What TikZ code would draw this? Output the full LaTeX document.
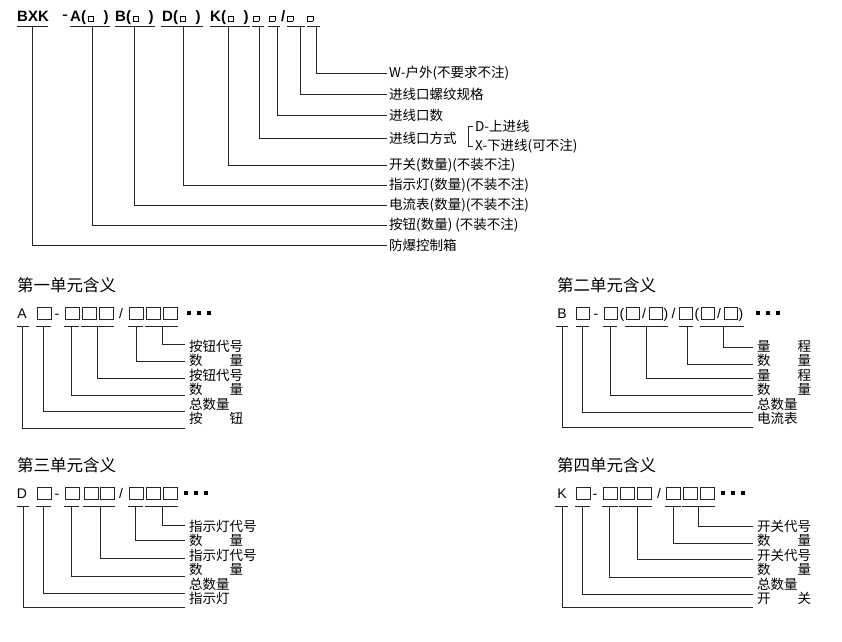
\documentclass[tikz,border=0pt]{standalone}
\usepackage{fontspec}
\setmainfont{Liberation Sans}
\newfontfamily\cjk{Noto Sans CJK SC}
\usetikzlibrary{positioning}
\newcommand{\hsq}{{\fboxsep=0pt\fboxrule=0.5pt\fbox{\rule{0pt}{5pt}\hspace{5pt}}}}

\begin{document}
\begin{tikzpicture}[x=1pt,y=-1pt,
        lead/.style={black!85,line width=1pt},
        code/.style={anchor=base west,inner sep=0pt,font=\fontsize{15}{15}\selectfont\bfseries},
        tag/.style={anchor=west,inner sep=2pt,font=\cjk\fontsize{13.5}{14}\selectfont},
        item/.style={anchor=west,inner sep=1pt,font=\cjk\fontsize{13.5}{14}\selectfont},
        title/.style={anchor=west,inner sep=0pt,font=\cjk\fontsize{16.5}{17}\selectfont},
        sym/.style={anchor=base,inner sep=0pt,font=\fontsize{14}{14}\selectfont},
        cell/.style={black!85,line width=0.9pt}]
    \useasboundingbox (0,0) rectangle (842,641);

    % model code
    \node[code] (bxk) at (17,21) {BXK};
    \node[code,font=\fontsize{18}{18}\selectfont] (sep) at (62,20) {-};
    \node[code] (ga) at (70,21) {A(\hspace{1.5pt}\hsq\hspace{10pt})};
    \node[code] (gb) at (115,21) {B(\hspace{1.5pt}\hsq\hspace{10pt})};
    \node[code] (gd) at (162,21) {D(\hspace{1.5pt}\hsq\hspace{10pt})};
    \node[code] (gk) at (210,21) {K(\hspace{1.5pt}\hsq\hspace{10pt})};
    \node[code] (q1) at (253,21) {\hsq};
    \node[code] (q2) at (269,21) {\hsq};
    \node[code] (q3) at (281,21) {/\hspace{2pt}\hsq};
    \node[code] (q4) at (307,21) {\hsq};
    \draw[lead] (17,26) -- (48,26) (70,26) -- (110,26) (115,26) -- (155,26)
        (161,26) -- (203,26) (210,26) -- (250,26) (252,26) -- (264,26)
        (268,26) -- (280,26) (287,26) -- (305,26) (307,26) -- (320,26);

    \node[tag] (w) at (387,73) {W-户外(不要求不注)};
    \node[tag] (thread) at (387,94) {进线口螺纹规格};
    \node[tag] (ports) at (387,115) {进线口数};
    \node[tag] (entry) at (387,138) {进线口方式};
    \node[tag] (up) at (473,126) {D-上进线};
    \node[tag] (down) at (473,146) {X-下进线(可不注)};
    \node[tag] (sw) at (387,165) {开关(数量)(不装不注)};
    \node[tag] (lamp) at (387,185) {指示灯(数量)(不装不注)};
    \node[tag] (amp) at (387,205) {电流表(数量)(不装不注)};
    \node[tag] (btn) at (387,225) {按钮(数量) (不装不注)};
    \node[tag] (case) at (387,245) {防爆控制箱};

    \coordinate (cw) at (316,26);
    \coordinate (cthread) at (300,26);
    \coordinate (cports) at (277,26);
    \coordinate (centry) at (259,26);
    \coordinate (csw) at (228,26);
    \coordinate (clamp) at (183,26);
    \coordinate (camp) at (134,26);
    \coordinate (cbtn) at (92,26);
    \coordinate (ccase) at (32,26);
    \draw[lead] (cw) |- (w.west);
    \draw[lead] (cthread) |- (thread.west);
    \draw[lead] (cports) |- (ports.west);
    \draw[lead] (centry) |- (entry.west);
    \draw[lead] (csw) |- (sw.west);
    \draw[lead] (clamp) |- (lamp.west);
    \draw[lead] (camp) |- (amp.west);
    \draw[lead] (cbtn) |- (btn.west);
    \draw[lead] (ccase) |- (case.west);
    \draw[lead] (up.west) -- ++(-5,0) |- (down.west);

    % first unit
    \node[title] (t1) at (17,285) {第一单元含义};
    \node[sym] (a0) at (22,318) {A};
    \node[sym] (adash) at (57,318) {-};
    \node[sym] (aslash) at (121,318) {/};
    \foreach \x in {37,65,82,99,129,146,163}
        \draw[cell] (\x,307) rectangle ++(14,12);
    \foreach \x in {187,197,207}
        \fill (\x,311) rectangle ++(4,4);
    \draw[lead] (17,326) -- (29,326) (36,326) -- (51,326) (64,326) -- (79,326)
        (81,326) -- (114,326) (128,326) -- (143,326) (145,326) -- (178,326);
    \node[item] (a1) at (188,346) {按钮代号};
    \node[item] (a2) at (188,360.5) {数\hspace{2em}量};
    \node[item] (a3) at (188,375) {按钮代号};
    \node[item] (a4) at (188,389.5) {数\hspace{2em}量};
    \node[item] (a5) at (188,404) {总数量};
    \node[item] (a6) at (188,418.5) {按\hspace{2em}钮};
    \foreach \i/\x/\y in {1/162/344,2/136/361,3/97/378,4/71/395,5/43/411,6/22/428}{
        \coordinate (sa\i) at (\x,326);
        \coordinate (ea\i) at (185,\y);
        \draw[lead] (sa\i) |- (ea\i);
    }

    % second unit
    \node[title] (t2) at (557,285) {第二单元含义};
    \node[sym] (b0) at (562,318) {B};
    \node[sym] (bdash) at (596,318) {-};
    \node[sym] (bp1) at (622,318) {(};
    \node[sym] (bs1) at (644,318) {/};
    \node[sym] (bq1) at (666,318) {)};
    \node[sym] (bs2) at (673.5,318) {/};
    \node[sym] (bp2) at (697,318) {(};
    \node[sym] (bs3) at (719,318) {/};
    \node[sym] (bq2) at (741,318) {)};
    \foreach \x in {576,604,626,649,679,701,724}
        \draw[cell] (\x,307) rectangle ++(13,12);
    \foreach \x in {756,766,776}
        \fill (\x,311) rectangle ++(4,4);
    \draw[lead] (556,326) -- (568,326) (576,326) -- (589,326) (603,326) -- (617,326)
        (625,326) -- (668,326) (679,326) -- (693,326) (700,326) -- (744,326);
    \node[item] (b1) at (756,346) {量\hspace{2em}程};
    \node[item] (b2) at (756,360.5) {数\hspace{2em}量};
    \node[item] (b3) at (756,375) {量\hspace{2em}程};
    \node[item] (b4) at (756,389.5) {数\hspace{2em}量};
    \node[item] (b5) at (756,404) {总数量};
    \node[item] (b6) at (756,418.5) {电流表};
    \foreach \i/\x/\y in {1/723/347,2/687/364,3/646/378,4/610/395,5/582/412,6/562/427}{
        \coordinate (sb\i) at (\x,326);
        \coordinate (eb\i) at (753,\y);
        \draw[lead] (sb\i) |- (eb\i);
    }

    % third unit
    \node[title] (t3) at (17,465) {第三单元含义};
    \node[sym] (d0) at (22,498) {D};
    \node[sym] (ddash) at (57,498) {-};
    \node[sym] (dslash) at (121,498) {/};
    \foreach \x in {37,65,84,100,129,146,163}
        \draw[cell] (\x,487) rectangle ++(14,12);
    \foreach \x in {184,194,204}
        \fill (\x,491) rectangle ++(4,4);
    \draw[lead] (17,506) -- (29,506) (36,506) -- (51,506) (64,506) -- (79,506)
        (83,506) -- (115,506) (128,506) -- (143,506) (145,506) -- (178,506);
    \node[item] (d1) at (188,526) {指示灯代号};
    \node[item] (d2) at (188,540.5) {数\hspace{2em}量};
    \node[item] (d3) at (188,555) {指示灯代号};
    \node[item] (d4) at (188,569.5) {数\hspace{2em}量};
    \node[item] (d5) at (188,584) {总数量};
    \node[item] (d6) at (188,598.5) {指示灯};
    \foreach \i/\x/\y in {1/162/525,2/135/540,3/100/558,4/71/576,5/43/593,6/23/607}{
        \coordinate (sd\i) at (\x,506);
        \coordinate (ed\i) at (185,\y);
        \draw[lead] (sd\i) |- (ed\i);
    }

    % fourth unit
    \node[title] (t4) at (557,465) {第四单元含义};
    \node[sym] (k0) at (562,498) {K};
    \node[sym] (kdash) at (595,498) {-};
    \node[sym] (kslash) at (659,498) {/};
    \foreach \x in {576,603,620,637,666,683,700}
        \draw[cell] (\x,487) rectangle ++(14,12);
    \foreach \x in {721,731,741}
        \fill (\x,491) rectangle ++(4,4);
    \draw[lead] (555,506) -- (568,506) (575,506) -- (590,506) (602,506) -- (618,506)
        (619,506) -- (652,506) (665,506) -- (681,506) (682,506) -- (715,506);
    \node[item] (k1) at (756,526) {开关代号};
    \node[item] (k2) at (756,540.5) {数\hspace{2em}量};
    \node[item] (k3) at (756,555) {开关代号};
    \node[item] (k4) at (756,569.5) {数\hspace{2em}量};
    \node[item] (k5) at (756,584) {总数量};
    \node[item] (k6) at (756,598.5) {开\hspace{2em}关};
    \foreach \i/\x/\y in {1/698/526,2/673/543,3/637/559,4/609/577,5/582/594,6/562/607}{
        \coordinate (sk\i) at (\x,506);
        \coordinate (ek\i) at (753,\y);
        \draw[lead] (sk\i) |- (ek\i);
    }
\end{tikzpicture}
\end{document}
